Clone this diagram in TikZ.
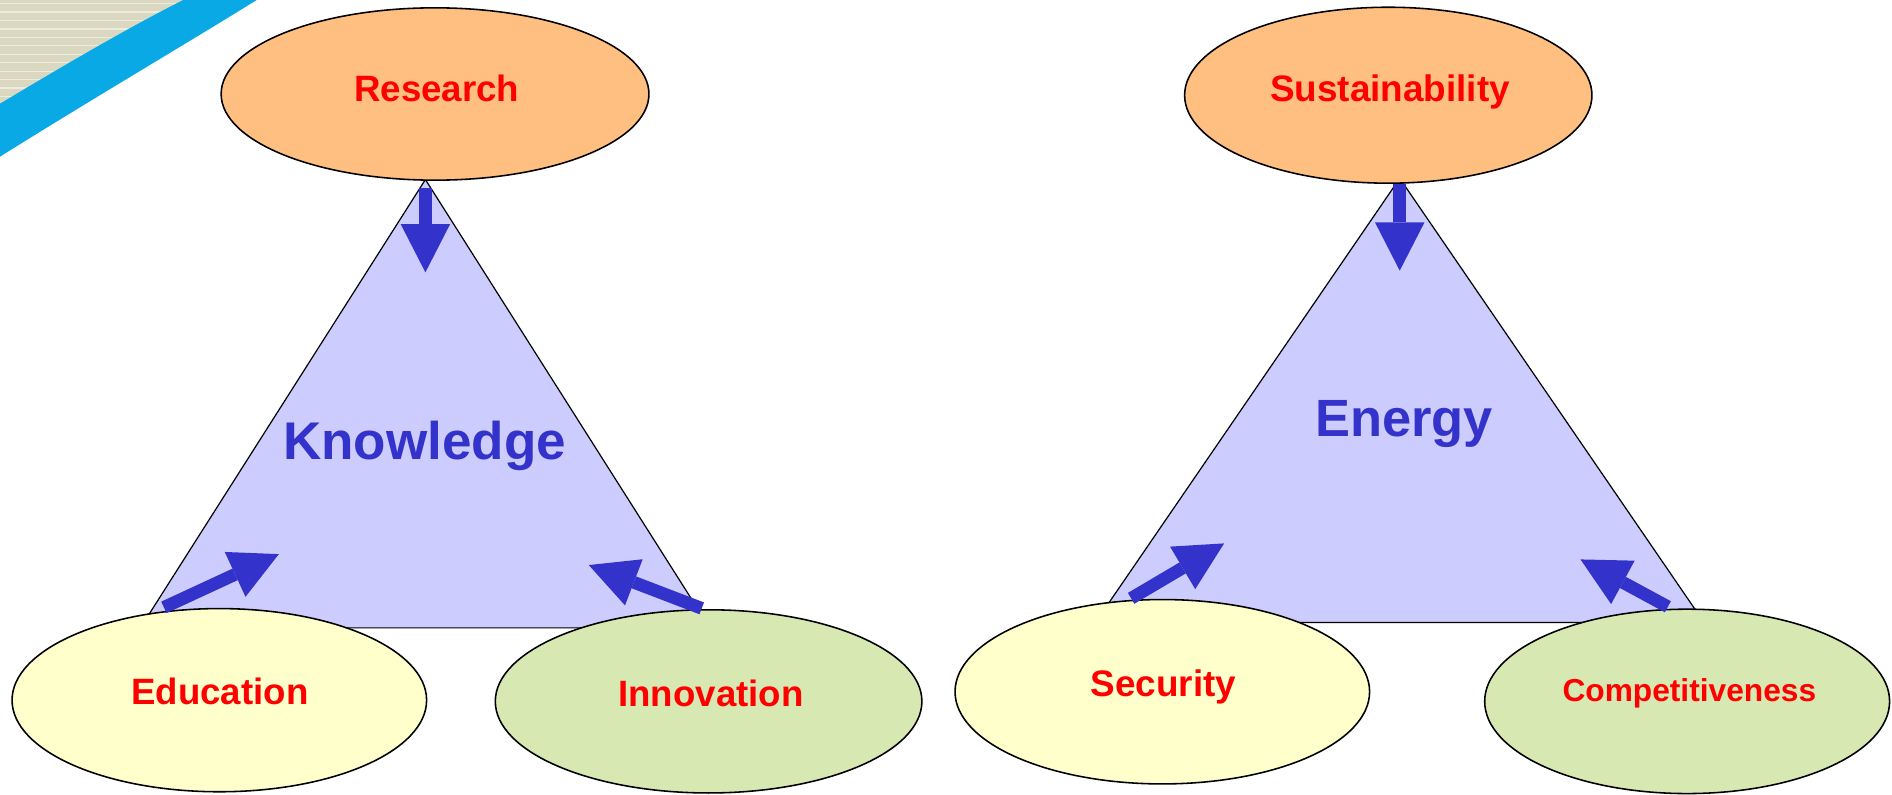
\documentclass[tikz,border=0pt]{standalone}
\usepackage{fontspec}
\setmainfont{Liberation Sans}
\usetikzlibrary{arrows.meta,shapes.geometric}
\definecolor{orng}{HTML}{FFBF80}
\definecolor{yel}{HTML}{FFFFCC}
\definecolor{grn}{HTML}{D7E8B3}
\definecolor{tri}{HTML}{CCCCFF}
\definecolor{ablue}{HTML}{3333CC}
\definecolor{beige}{HTML}{DBD8C2}
\definecolor{stripe}{HTML}{EDEBDD}
\definecolor{swoosh}{HTML}{09A9E6}
\begin{document}
\begin{tikzpicture}[x=1pt,y=-1pt,
  oval/.style={ellipse,draw=black,line width=1.3pt,inner sep=0pt},
  lab/.style={text=red,font=\fontsize{30.4}{34}\selectfont\bfseries,inner sep=0pt,anchor=base},
  big/.style={text=ablue,font=\fontsize{44}{50}\selectfont\bfseries,inner sep=0pt,anchor=base},
  barrow/.style={draw=ablue,line width=10.5pt,-{Triangle[length=40pt,width=41pt,line width=0pt]}},
  triface/.style={fill=tri,draw=black,line width=1pt,line join=miter}]
\useasboundingbox (0,0) rectangle (1570,659);
% background decoration
\fill[beige] (0,0) -- (152,0) .. controls (110,21) and (55,53) .. (0,86) -- cycle;
\begin{scope}
  \clip (0,0) -- (152,0) .. controls (110,21) and (55,53) .. (0,86) -- cycle;
  \foreach \yy in {3,10,...,90} \draw[stripe,line width=1pt] (0,\yy) -- (160,\yy);
\end{scope}
\fill[swoosh] (0,86) .. controls (55,53) and (110,21) .. (152,0) -- (213,0)
  .. controls (160,33) and (75,83) .. (0,130) -- cycle;
% triangles
\coordinate (kA) at (353,149); \coordinate (kB) at (116.5,521); \coordinate (kC) at (589,521);
\draw[triface] (kA) -- (kB) -- (kC) -- cycle;
\coordinate (eA) at (1161.5,148); \coordinate (eB) at (909,516.5); \coordinate (eC) at (1414,516.5);
\draw[triface] (eA) -- (eB) -- (eC) -- cycle;
% ellipses
\node[oval,fill=orng,minimum width=355pt,minimum height=143pt] (res) at (361,78) {};
\node[oval,fill=orng,minimum width=338pt,minimum height=146pt] (sus) at (1152,79) {};
\node[oval,fill=yel,minimum width=344pt,minimum height=152pt] (edu) at (182,581) {};
\node[oval,fill=grn,minimum width=354pt,minimum height=152pt] (inn) at (588,582) {};
\node[oval,fill=yel,minimum width=344pt,minimum height=153pt] (sec) at (964.5,574) {};
\node[oval,fill=grn,minimum width=336pt,minimum height=153pt] (com) at (1400,582) {};
% arrows
\coordinate (r0) at (353,156); \coordinate (r1) at (353,226);
\coordinate (s0) at (1161.5,153); \coordinate (s1) at (1161.5,224.6);
\coordinate (d0) at (136,504); \coordinate (d1) at (231.4,459.8);
\coordinate (i0) at (582.3,504.8); \coordinate (i1) at (488.6,468.9);
\coordinate (c0) at (938.6,496.5); \coordinate (c1) at (1015.8,450.9);
\coordinate (p0) at (1384,503.5); \coordinate (p1) at (1311.5,464.2);
\draw[barrow] (r0) -- (r1);
\draw[barrow] (s0) -- (s1);
\draw[barrow] (d0) -- (d1);
\draw[barrow] (i0) -- (i1);
\draw[barrow] (c0) -- (c1);
\draw[barrow] (p0) -- (p1);
% labels
\node[lab] (tres) at (362.5,84.6) {Research};
\node[lab,font=\fontsize{30.6}{34}\selectfont\bfseries] (tsus) at (1153.4,84.5) {Sustainability};
\node[lab] (tedu) at (182.5,584.5) {Education};
\node[lab] (tinn) at (590,585.9) {Innovation};
\node[lab,font=\fontsize{30.6}{34}\selectfont\bfseries] (tsec) at (965.5,578.3) {Security};
\node[lab,font=\fontsize{26.3}{30}\selectfont\bfseries] (tcom) at (1401.8,582.3) {Competitiveness};
\node[big] (tkno) at (352.4,381) {Knowledge};
\node[big,font=\fontsize{43.5}{50}\selectfont\bfseries] (tene) at (1165.2,362.6) {Energy};
\end{tikzpicture}
\end{document}
